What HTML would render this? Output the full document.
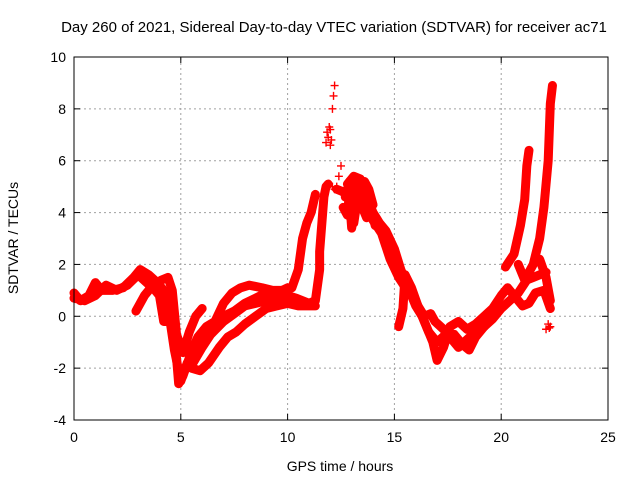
<!DOCTYPE html>
<html><head><meta charset="utf-8"><style>
body{margin:0;background:#fff;}
svg{display:block;font-family:"Liberation Sans",sans-serif;}
</style></head><body>
<svg id="chart" width="640" height="480" viewBox="0 0 640 480">
<text x="334" y="32" font-size="15" text-anchor="middle" fill="#000">Day 260 of 2021, Sidereal Day-to-day VTEC variation (SDTVAR) for receiver ac71</text>
<text x="340" y="471" font-size="14" text-anchor="middle">GPS time / hours</text>
<text transform="translate(18,238) rotate(-90)" font-size="14" text-anchor="middle">SDTVAR / TECUs</text>
<g id="grid"></g>
<g id="ticks"></g>
<g id="marks"></g>
<rect x="74" y="57" width="534" height="363" fill="none" stroke="#000" stroke-width="1"/>
</svg>
<script>
const xTicks=[0,5,10,15,20,25];
const yTicks=[-4,-2,0,2,4,6,8,10];
const track1=[[0,0.9],[0.3,0.6],[0.7,0.8],[1,1.3],[1.3,1.0],[1.8,1.0],[2.3,1.1],[2.8,1.5],[3.1,1.8],[3.5,1.6],[3.9,1.3],[4.3,0.9],[4.6,-0.2],[4.8,-1.6],[4.9,-2.6],[5.1,-2.3],[5.4,-1.6],[5.8,-1.3],[6.2,-0.7],[6.6,-0.3],[7,0],[7.5,0.2],[8,0.5],[8.5,0.7],[9,0.9],[9.5,0.9],[10,1.1]];
const track2=[[2.9,0.2],[3.3,0.8],[3.7,1.2],[4.1,1.4],[4.4,1.5],[4.6,1.0],[4.8,-0.7],[5.1,-1.4],[5.4,-0.6],[5.7,0],[6,0.3]];
const track3=[[0,0.7],[0.5,0.6],[1,0.8],[1.5,1.2],[2,1.0],[2.5,1.2],[3,1.6],[3.8,1.0],[4.0,0.8],[4.2,-0.2],[4.5,-0.2],[4.7,-1.3],[5.0,-2.5],[5.3,-1.8],[5.5,-2.0],[5.9,-2.1],[6.3,-1.8],[6.8,-1.2],[7.2,-0.8],[7.6,-0.6],[8,-0.3],[8.5,0],[9,0.3],[9.5,0.4],[10,0.5],[10.5,0.4],[11,0.4],[11.3,0.4]];
const track4=[[5.4,-1.5],[5.8,-0.8],[6.2,-0.4],[6.6,-0.2],[7,0.5],[7.4,0.9],[7.8,1.1],[8.2,1.2],[8.8,1.1],[9.3,1.0],[9.8,1.0],[10.2,1.1],[10.5,1.8],[10.7,3.0],[10.9,3.6],[11.1,4.0],[11.3,4.7]];
const track5=[[5.5,-1.9],[6,-1.2],[6.4,-0.7],[7,-0.2],[7.5,0.1],[8,0.4],[8.5,0.5],[9,0.6],[9.5,0.6],[10,0.8],[10.4,0.7],[11.0,0.5],[11.3,0.6],[11.5,1.8],[11.5,2.5],[11.7,4.6],[11.8,5.0],[11.9,5.1]];
const track6=[[12.3,4.9],[12.6,4.8],[12.9,4.5],[13.0,3.4],[13.2,4.4],[13.5,5.0],[13.7,4.6],[14.0,4.0],[14.3,3.6],[14.6,3.3],[15.0,2.6],[15.3,1.8],[15.6,1.2],[16,0.4],[16.3,0],[16.6,-0.6],[17,-1.0],[17.4,-0.7],[17.8,-0.7],[18.2,-1.1],[18.5,-1.3],[18.8,-0.8],[19.2,-0.4],[19.6,-0.1],[20,0.3],[20.4,0.6],[20.8,0.9],[21.2,1.4],[21.5,1.5],[21.8,1.6],[22.1,1.7]];
const track7=[[12.8,5.1],[13.1,5.4],[13.4,5.3],[13.7,4.4],[14,3.7],[14.4,3.2],[14.8,2.2],[15.2,1.5],[15.6,1.0],[16,0.6],[16.4,-0.2],[16.8,-1.0],[17.0,-1.7],[17.3,-1.2],[17.6,-0.4],[18,-0.2],[18.4,-0.5],[18.8,-0.3],[19.2,0],[19.6,0.3],[20,0.8],[20.3,1.1],[20.6,0.8],[21,0.4],[21.3,0.5],[21.6,0.9],[22,1.0],[22.3,0.3]];
const track8=[[15.2,-0.4],[15.4,0.3],[15.5,1.6],[15.8,1.1],[16.1,0.4],[16.4,0.0],[16.7,0.1],[16.9,-0.2],[17.3,-0.5],[17.7,-0.9],[18.0,-1.2],[18.4,-0.9],[18.8,-0.6],[19.2,-0.4]];
const track9=[[20.2,1.9],[20.6,2.4],[20.9,3.5],[21.1,4.5],[21.2,5.8],[21.3,6.4]];
const track10=[[20.8,2.0],[21.1,1.4],[21.5,2.0],[21.8,3.0],[22,4.2],[22.2,6.0],[22.3,8.2],[22.4,8.9]];
const track11=[[21.8,2.2],[22.1,1.5],[22.3,0.6]];
const track12=[[12.6,4.2],[12.8,3.9],[12.9,4.8],[13.1,3.6],[13.3,4.7],[13.5,4.2],[13.7,3.8],[13.9,4.2],[14.1,3.5]];
const track13=[[12.7,4.6],[12.9,5.2],[13.2,5.0],[13.4,4.5],[13.6,5.2],[13.8,4.9],[14.0,4.3]];
const scatterPts=[[11.8,6.7],[11.85,7.1],[11.9,6.9],[12,7.2],[12.05,6.8],[12.0,6.6],[11.95,7.3],[12.1,8.0],[12.15,8.5],[12.2,8.9],[12.4,5.4],[12.5,5.8],[12.3,5.0],[12.2,4.9],[12.1,5.0],[22.3,-0.4],[22.1,-0.5],[22.2,-0.3],[22.25,-0.45]];
const tracks=[track1,track2,track3,track4,track5,track6,track7,track8,track9,track10,track11,track12,track13];
const NS="http://www.w3.org/2000/svg";
const X0=74,X1=608,Y0=420,Y1=57;
function sx(v){return X0+(v-0)/(25-0)*(X1-X0);}
function sy(v){return Y0-(v+4)/(10+4)*(Y0-Y1);}
function mk(t,a,parent){const e=document.createElementNS(NS,t);for(const k in a)e.setAttribute(k,a[k]);parent.appendChild(e);return e;}
const grid=document.getElementById('grid'),ticks=document.getElementById('ticks'),marks=document.getElementById('marks');
xTicks.forEach(v=>{const x=sx(v);
 if(v>0&&v<25){const l=mk('line',{x1:x,y1:Y0,x2:x,y2:Y1,stroke:'#a0a0a0','stroke-dasharray':'2,3'},grid);
 
 }
 mk('line',{x1:x,y1:Y0,x2:x,y2:Y0-6,stroke:'#000'},ticks);mk('line',{x1:x,y1:Y1,x2:x,y2:Y1+6,stroke:'#000'},ticks);
 const t=mk('text',{x:x,y:Y0+22,'font-size':14,'text-anchor':'middle'},ticks);t.textContent=v;
 
 });
yTicks.forEach(v=>{const y=sy(v);
 if(v>-4&&v<10){const l=mk('line',{x1:X0,y1:y,x2:X1,y2:y,stroke:'#a0a0a0','stroke-dasharray':'2,3'},grid);
 
 }
 mk('line',{x1:X0,y1:y,x2:X0+6,y2:y,stroke:'#000'},ticks);mk('line',{x1:X1,y1:y,x2:X1-6,y2:y,stroke:'#000'},ticks);
 const t=mk('text',{x:X0-8,y:y+5,'font-size':14,'text-anchor':'end'},ticks);t.textContent=v;
 
 });
function plus(p,parent){const x=sx(p[0]),y=sy(p[1]);
 const e=mk('path',{d:`M${x-4},${y}H${x+4}M${x},${y-4}V${y+4}`,stroke:'#f00','stroke-width':1.4},parent);
 
 }
tracks.forEach((tr,i)=>{
 const g=mk('g',{},marks);
 
 
 const pl=mk('polyline',{points:tr.map(p=>sx(p[0])+','+sy(p[1])).join(' '),fill:'none',stroke:'#f00','stroke-width':9,'stroke-linejoin':'round','stroke-linecap':'round'},g);
 
 
 tr.forEach(p=>plus(p,g));});
const sg=mk('g',{},marks);


scatterPts.forEach(p=>plus(p,sg));
</script>
</body></html>
